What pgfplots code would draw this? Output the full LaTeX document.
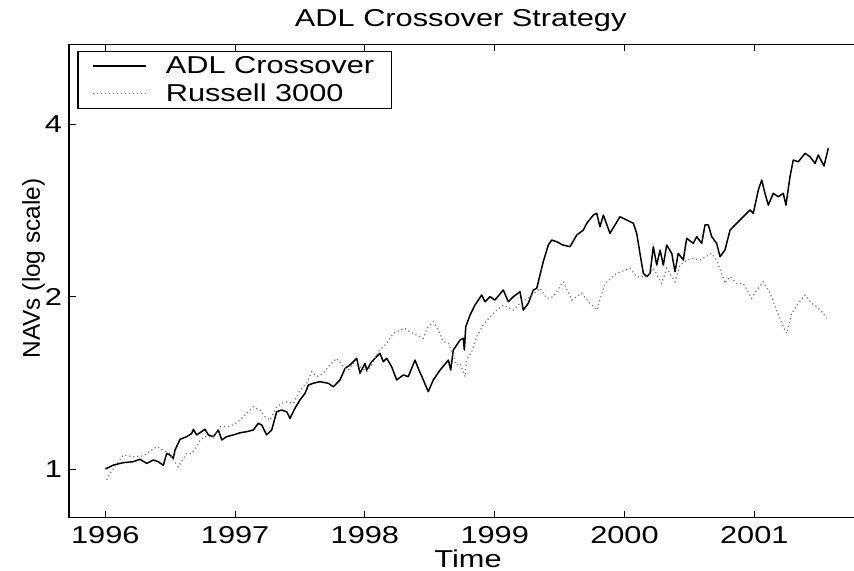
\documentclass[border=0pt]{standalone}
\usepackage{pgfplots}
\pgfplotsset{compat=1.18}
\usepackage{fontspec}
\setmainfont{Liberation Sans}[FakeStretch=1.26]
\newfontfamily\ylabfont{Liberation Sans}
\begin{document}
\begin{tikzpicture}[font=\fontsize{12.2}{14}\selectfont]
\useasboundingbox (-34.5pt,-26.65pt) rectangle (392.5pt,258.85pt);
\begin{axis}[
  at={(0pt,0pt)}, anchor=south west,
  scale only axis, width=407.55pt, height=236.7pt,
  xmin=1995.7203, xmax=2002.0,
  ymode=log, ymin=0.8222, ymax=5.521,
  xtick={1996,1997,1998,1999,2000,2001},
  xticklabels={1996,1997,1998,1999,2000,2001},
  ytick={1,2,4}, yticklabels={1,2,4},
  yminorticks=false,
  tick align=inside, major tick length=3.5pt,
  xtick pos=both, ytick pos=left,
  xticklabel style={anchor=base, yshift=-12.8pt},
  tick style={black, line width=0.5pt},
  axis line style={line width=0.6pt},
  /pgf/number format/assume math mode=true,
  legend style={at={(0.0102,0.9858)}, anchor=north west, draw=black,
    line width=0.6pt, inner xsep=7pt, inner ysep=0.5pt,
    nodes={inner sep=1.8pt, font=\fontsize{12.2}{14}\selectfont},
    column sep=7.7pt},
  legend cell align=left,
  legend image code/.code={\draw[#1] (0pt,0pt) -- (26.7pt,0pt);},
]
\addplot[black, line width=0.75pt, line join=round] coordinates {
(1996.000,1.000) (1996.062,1.016) (1996.139,1.026) (1996.216,1.030) (1996.267,1.040)
(1996.319,1.023) (1996.370,1.037) (1996.408,1.030) (1996.447,1.015) (1996.473,1.065)
(1996.498,1.058) (1996.524,1.044) (1996.537,1.079) (1996.576,1.127) (1996.627,1.139)
(1996.666,1.154) (1996.678,1.173) (1996.704,1.147) (1996.768,1.173) (1996.794,1.147)
(1996.832,1.139) (1996.871,1.170) (1996.897,1.124) (1996.935,1.139) (1996.986,1.147)
(1997.038,1.157) (1997.089,1.162) (1997.140,1.170) (1997.179,1.202) (1997.205,1.194)
(1997.243,1.147) (1997.282,1.170) (1997.320,1.259) (1997.359,1.268) (1997.398,1.259)
(1997.423,1.226) (1997.461,1.277) (1997.500,1.320) (1997.539,1.356) (1997.564,1.402)
(1997.602,1.412) (1997.654,1.421) (1997.718,1.412) (1997.757,1.392) (1997.808,1.431)
(1997.847,1.499) (1997.885,1.520) (1997.937,1.561) (1997.962,1.470) (1998.001,1.530)
(1998.014,1.489) (1998.052,1.540) (1998.116,1.593) (1998.142,1.540) (1998.168,1.561)
(1998.206,1.509) (1998.245,1.431) (1998.296,1.460) (1998.334,1.450) (1998.386,1.550)
(1998.411,1.499) (1998.450,1.431) (1998.488,1.365) (1998.527,1.431) (1998.579,1.489)
(1998.643,1.550) (1998.661,1.489) (1998.681,1.614) (1998.733,1.680) (1998.758,1.692)
(1998.766,1.614) (1998.777,1.773) (1998.810,1.858) (1998.848,1.934) (1998.900,2.014)
(1998.925,1.960) (1998.964,2.000) (1999.002,1.974) (1999.066,2.055) (1999.105,1.960)
(1999.143,2.000) (1999.195,2.041) (1999.220,1.896) (1999.259,1.948) (1999.297,2.055)
(1999.324,2.069) (1999.374,2.303) (1999.413,2.462) (1999.439,2.512) (1999.478,2.495)
(1999.526,2.462) (1999.580,2.446) (1999.632,2.563) (1999.683,2.615) (1999.709,2.687)
(1999.760,2.778) (1999.786,2.797) (1999.811,2.650) (1999.837,2.778) (1999.888,2.581)
(1999.965,2.759) (2000.017,2.723) (2000.068,2.687) (2000.094,2.581) (2000.119,2.381)
(2000.145,2.198) (2000.171,2.168) (2000.197,2.198) (2000.222,2.446) (2000.248,2.272)
(2000.274,2.413) (2000.299,2.272) (2000.325,2.462) (2000.364,2.381) (2000.389,2.212)
(2000.414,2.381) (2000.453,2.318) (2000.479,2.530) (2000.530,2.479) (2000.556,2.546)
(2000.595,2.479) (2000.620,2.669) (2000.646,2.669) (2000.672,2.546) (2000.710,2.479)
(2000.736,2.349) (2000.774,2.413) (2000.813,2.615) (2000.864,2.687) (2000.915,2.759)
(2000.967,2.835) (2000.992,2.797) (2001.031,3.072) (2001.057,3.198) (2001.082,3.032)
(2001.108,2.892) (2001.146,3.032) (2001.185,2.990) (2001.223,3.032) (2001.244,2.892)
(2001.275,3.241) (2001.300,3.466) (2001.339,3.442) (2001.391,3.561) (2001.429,3.513)
(2001.468,3.420) (2001.493,3.537) (2001.537,3.384) (2001.570,3.634)
};
\addlegendentry{ADL Crossover}
\addplot[black!55, line width=0.6pt, dash pattern=on 0.6pt off 1.4pt] coordinates {
(1996.011,0.957) (1996.036,0.983) (1996.139,1.058) (1996.216,1.051) (1996.293,1.054)
(1996.396,1.094) (1996.447,1.079) (1996.498,1.065) (1996.524,1.037) (1996.562,1.009)
(1996.627,1.065) (1996.666,1.065) (1996.704,1.094) (1996.730,1.124) (1996.768,1.139)
(1996.832,1.139) (1996.884,1.185) (1996.935,1.185) (1996.986,1.194) (1997.038,1.218)
(1997.089,1.251) (1997.140,1.285) (1997.192,1.268) (1997.230,1.234) (1997.269,1.218)
(1997.320,1.285) (1997.359,1.302) (1997.398,1.311) (1997.448,1.302) (1997.500,1.374)
(1997.552,1.412) (1997.590,1.479) (1997.629,1.450) (1997.680,1.470) (1997.718,1.509)
(1997.757,1.540) (1997.783,1.561) (1997.834,1.509) (1997.872,1.489) (1997.911,1.530)
(1997.962,1.509) (1998.014,1.479) (1998.052,1.520) (1998.103,1.603) (1998.168,1.658)
(1998.219,1.726) (1998.270,1.749) (1998.309,1.761) (1998.347,1.737) (1998.399,1.714)
(1998.450,1.692) (1998.488,1.773) (1998.527,1.809) (1998.565,1.749) (1998.604,1.669)
(1998.643,1.658) (1998.681,1.582) (1998.707,1.520) (1998.733,1.530) (1998.771,1.450)
(1998.784,1.550) (1998.823,1.603) (1998.861,1.703) (1998.912,1.785) (1998.964,1.845)
(1999.015,1.896) (1999.066,1.934) (1999.143,1.896) (1999.195,1.948) (1999.272,2.000)
(1999.349,2.069) (1999.401,1.987) (1999.451,2.000) (1999.528,2.124) (1999.593,1.974)
(1999.670,2.028) (1999.734,1.948) (1999.786,1.896) (1999.850,2.110) (1999.940,2.198)
(2000.042,2.242) (2000.094,2.168) (2000.171,2.168) (2000.222,2.242) (2000.287,2.110)
(2000.325,2.242) (2000.389,2.124) (2000.428,2.272) (2000.479,2.318) (2000.530,2.334)
(2000.582,2.318) (2000.672,2.381) (2000.710,2.318) (2000.774,2.110) (2000.813,2.168)
(2000.864,2.110) (2000.915,2.110) (2000.980,1.987) (2001.019,2.055) (2001.069,2.124)
(2001.121,2.028) (2001.173,1.896) (2001.223,1.773) (2001.250,1.726) (2001.288,1.871)
(2001.339,1.948) (2001.391,2.014) (2001.442,1.948) (2001.481,1.921) (2001.519,1.883)
(2001.558,1.834)
};
\addlegendentry{Russell 3000}
\end{axis}
\node[anchor=base] at (195.85pt,245.5pt) {ADL Crossover Strategy};
\node[anchor=base] at (199.5pt,-24.8pt) {Time};
\node[anchor=base, rotate=90, font=\ylabfont\fontsize{12.2}{14}\selectfont] at (-14.5pt,124.6pt) {NAVs (log scale)};
\end{tikzpicture}
\end{document}
